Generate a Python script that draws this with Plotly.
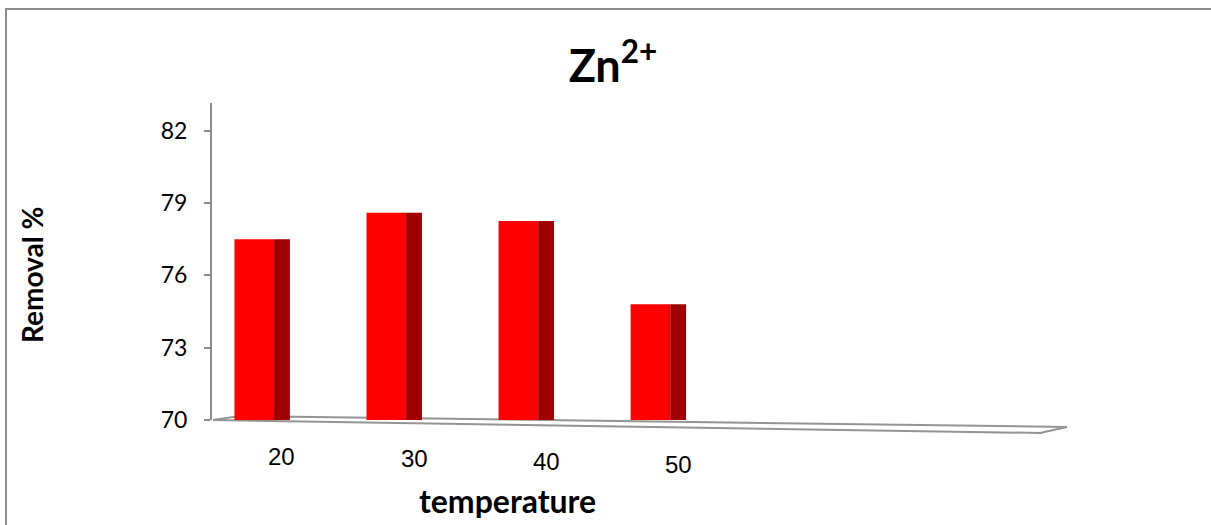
import plotly.graph_objects as go

# ---- data ----
categories = ["20", "30", "40", "50"]
removal = [77.5, 78.6, 78.25, 74.8]
y_ticks = [70, 73, 76, 79, 82]

# ---- layout geometry (pixels) ----
W, H = 1211, 525
L, R, T, B = 212, 1040, 103, 420  # plot area edges in px


def pxp(x, y):
    """pixel -> paper coordinates"""
    return (x - L) / (R - L), (B - y) / (B - T)


idx = list(range(len(categories)))
FRONT = "#FF0000"
SIDE = "#A00000"
GRAY = "#8c8c8c"

fig = go.Figure()
fig.add_trace(go.Bar(x=idx, y=removal, width=0.3, offset=-0.15,
                     marker=dict(color=FRONT, line=dict(width=0)),
                     showlegend=False, hoverinfo="x+y"))
fig.add_trace(go.Bar(x=idx, y=removal, width=0.12, offset=0.15,
                     marker=dict(color=SIDE, line=dict(width=0)),
                     showlegend=False, hoverinfo="skip"))

shapes = []
# floor (thin slanted plane)
pts = [pxp(213, 420), pxp(1040, 433), pxp(1067, 427), pxp(240, 416)]
path = "M " + " L ".join(f"{a:.5f},{b:.5f}" for a, b in pts) + " Z"
shapes.append(dict(type="path", path=path, xref="paper", yref="paper",
                   line=dict(color="#949494", width=2), fillcolor="white",
                   layer="below"))
# outer border
bx0, by0 = pxp(6, 530)
bx1, by1 = pxp(1216, 9)
shapes.append(dict(type="rect", xref="paper", yref="paper",
                   x0=bx0, y0=by0, x1=bx1, y1=by1,
                   line=dict(color=GRAY, width=2), fillcolor="rgba(0,0,0,0)",
                   layer="below"))

annotations = []
for i, c in enumerate(categories):
    _, ly = pxp(0, 456)
    annotations.append(dict(x=i + 0.21, xref="x", y=ly, yref="paper",
                            text=c, showarrow=False, yshift=-i * 2.7,
                            font=dict(family="Liberation Sans, Arial", size=24, color="black"),
                            xanchor="center", yanchor="middle"))
tx, ty = pxp(507, 500)
annotations.append(dict(x=tx, y=ty, xref="paper", yref="paper", text="<b>temperature</b>",
                        showarrow=False, xanchor="center", yanchor="middle",
                        font=dict(family="Lato", size=32, color="black")))
rx, ry = pxp(32, 275)
annotations.append(dict(x=rx, y=ry, xref="paper", yref="paper", text="<b>Removal %</b>",
                        showarrow=False, xanchor="center", yanchor="middle", textangle=-90,
                        font=dict(family="Lato", size=28, color="black")))

fig.update_layout(
    width=W, height=H,
    margin=dict(l=L, r=W - R, t=T, b=H - B, pad=0),
    paper_bgcolor="white", plot_bgcolor="rgba(0,0,0,0)",
    barmode="overlay",
    title=dict(text="<b>Zn<sup>2+</sup></b>", x=613 / W, xref="container", xanchor="center",
               y=1 - 66 / H, yref="container", yanchor="middle",
               font=dict(family="Lato", size=45, color="black")),
    xaxis=dict(range=[-0.32, 5.95], showgrid=False, zeroline=False, showline=False,
               showticklabels=False, ticks="", fixedrange=True),
    yaxis=dict(range=[70, 83.15], tickvals=y_ticks, showgrid=False, zeroline=False,
               showline=True, linecolor=GRAY, linewidth=2,
               ticks="outside", ticklen=6, tickcolor=GRAY, tickwidth=2,
               ticklabelstandoff=12,
               tickfont=dict(family="Lato", size=23, color="black")),
    shapes=shapes, annotations=annotations,
)

fig.write_html("out.html")
